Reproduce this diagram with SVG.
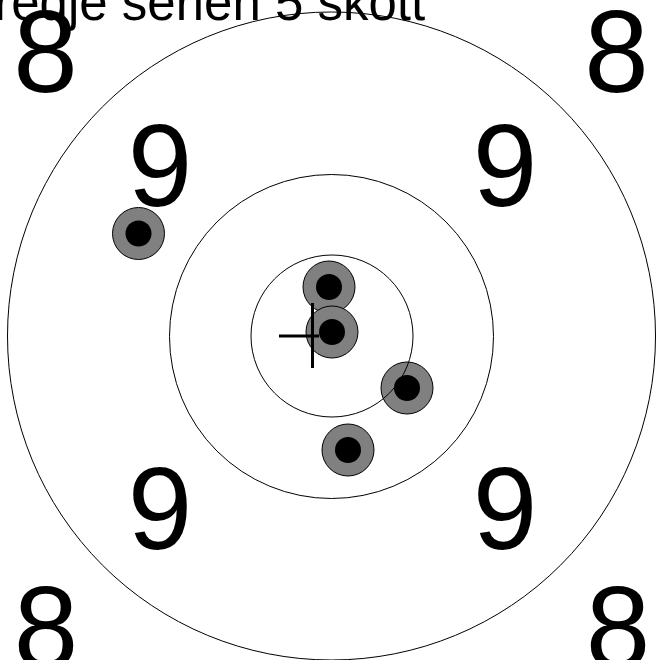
<svg xmlns="http://www.w3.org/2000/svg" width="657" height="660" viewBox="0 0 657 660">
<style>
.ring{fill:none;stroke:#000;stroke-width:1}
.hole{fill:#808080;stroke:#000;stroke-width:1}
.core{fill:#000}
.num{font-family:"Liberation Sans",Arial,sans-serif;font-size:116px;fill:#000;text-anchor:middle}
.title{font-family:"Liberation Sans",Arial,sans-serif;font-size:51px;fill:#000}
.cross{stroke:#000;stroke-width:3;fill:none}
</style>
<rect width="657" height="660" fill="#fff"/>
<g id="shots">
<g id="shot5"><circle class="hole" cx="138.5" cy="233.5" r="26"/><circle class="core" cx="138.5" cy="233.5" r="13"/></g>
<g id="shot1"><circle class="hole" cx="329" cy="287" r="26"/><circle class="core" cx="329" cy="287" r="13"/></g>
<g id="shot2"><circle class="hole" cx="332" cy="332" r="26"/><circle class="core" cx="332" cy="332" r="13"/></g>
<g id="shot3"><circle class="hole" cx="407" cy="388" r="26"/><circle class="core" cx="407" cy="388" r="13"/></g>
<g id="shot4"><circle class="hole" cx="348" cy="450" r="26"/><circle class="core" cx="348" cy="450" r="13"/></g>
</g>
<g id="rings">
<circle class="ring" cx="331.5" cy="336" r="324"/>
<circle class="ring" cx="331.5" cy="336.5" r="162"/>
<circle class="ring" cx="332" cy="336" r="81"/>
</g>
<g id="cross">
<line class="cross" x1="279" y1="336" x2="319" y2="336"/>
<line class="cross" x1="312.5" y1="303" x2="312.5" y2="368"/>
</g>
<text class="title" x="-35" y="20">Tredje serien 5 skott</text>
<g id="labels">
<text class="num" x="45.5" y="92">8</text>
<text class="num" x="616.5" y="92">8</text>
<text class="num" x="160" y="206">9</text>
<text class="num" x="505" y="206">9</text>
<text class="num" x="160" y="549">9</text>
<text class="num" x="505" y="549">9</text>
<text class="num" x="46" y="668">8</text>
<text class="num" x="618" y="668">8</text>
</g>
</svg>
